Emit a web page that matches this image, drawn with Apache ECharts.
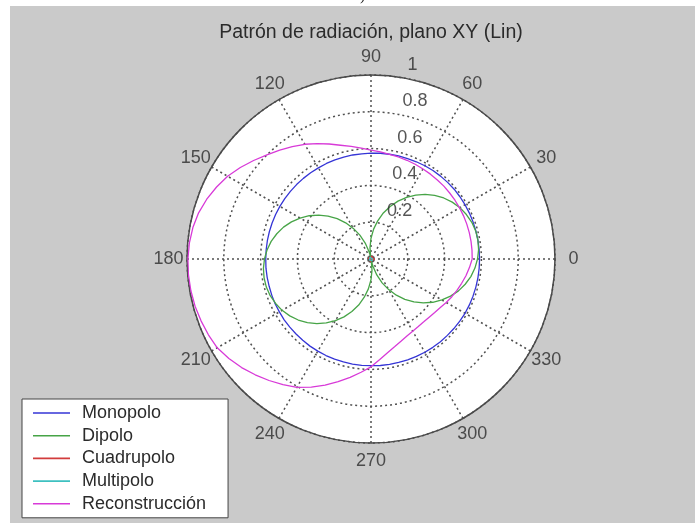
<!DOCTYPE html>
<html>
<head>
<meta charset="utf-8">
<script src="https://cdn.jsdelivr.net/npm/echarts@6/dist/echarts.min.js"></script>
<style>
  html, body { margin: 0; padding: 0; background: #ffffff; }
  #bg { position: absolute; left: 10px; top: 6px; width: 685px; height: 517px; background: #cacaca; }
  #disk { position: absolute; left: 187px; top: 75px; width: 368px; height: 368px; border-radius: 50%; background: #ffffff; }
  #chart { position: absolute; left: 0; top: 0; width: 695px; height: 523px; }
</style>
</head>
<body>
<div id="bg"></div>
<div id="disk"></div>
<div id="chart"></div>
<script>
// ---- data ----
const angles5 = [0,5,10,15,20,25,30,35,40,45,50,55,60,65,70,75,80,85,90,95,100,105,110,115,120,125,130,135,140,145,150,155,160,165,170,175,180,185,190,195,200,205,210,215,220,225,230,235,240,245,250,255,260,265,270,275,280,285,290,295,300,305,310,315,320,325,330,335,340,345,350,355,360];
const angles15 = [0,15,30,45,60,75,90,105,120,135,150,165,180,195,210,225,240,255,270,285,300,315,330,345,360];

const monopolo = [0.590,0.590,0.590,0.590,0.590,0.590,0.590,0.590,0.590,0.589,0.588,0.587,0.585,0.583,0.581,0.580,0.578,0.577,0.575,0.574,0.574,0.573,0.573,0.573,0.572,0.572,0.572,0.572,0.572,0.572,0.572,0.572,0.572,0.572,0.572,0.572,0.572,0.573,0.573,0.573,0.574,0.575,0.575,0.576,0.576,0.576,0.577,0.578,0.578,0.579,0.579,0.579,0.580,0.580,0.580,0.581,0.582,0.582,0.583,0.584,0.585,0.586,0.587,0.587,0.588,0.589,0.590,0.590,0.590,0.590,0.590,0.590,0.590];
const dipolo = [0.579,0.587,0.590,0.589,0.583,0.572,0.558,0.539,0.516,0.489,0.458,0.424,0.387,0.347,0.304,0.259,0.211,0.163,0.113,0.062,0.010,0.041,0.092,0.143,0.192,0.240,0.286,0.330,0.371,0.410,0.445,0.477,0.506,0.530,0.551,0.567,0.579,0.587,0.590,0.589,0.583,0.572,0.558,0.539,0.516,0.489,0.458,0.424,0.387,0.347,0.304,0.259,0.211,0.163,0.113,0.062,0.010,0.041,0.092,0.143,0.192,0.240,0.286,0.330,0.371,0.410,0.445,0.477,0.506,0.530,0.551,0.567,0.579];
const cuadrupolo = [0.02,0.017,0.01,0.002,0.01,0.017,0.02,0.017,0.01,0.002,0.01,0.017,0.02,0.017,0.01,0.002,0.01,0.017,0.02,0.017,0.01,0.002,0.01,0.017,0.02];
const multipolo = [0.01,0.01,0.01,0.01,0.01,0.01,0.01,0.01,0.01,0.01,0.01,0.01,0.01,0.01,0.01,0.01,0.01,0.01,0.01,0.01,0.01,0.01,0.01,0.01,0.01];
const reconstruccion = [0.550,0.551,0.552,0.553,0.554,0.555,0.556,0.557,0.558,0.560,0.561,0.563,0.565,0.568,0.571,0.574,0.578,0.584,0.592,0.605,0.621,0.640,0.665,0.692,0.720,0.746,0.772,0.800,0.833,0.867,0.900,0.926,0.950,0.970,0.983,0.991,0.995,0.996,0.994,0.990,0.983,0.975,0.965,0.943,0.918,0.890,0.862,0.834,0.805,0.768,0.730,0.690,0.653,0.618,0.586,0.548,0.517,0.494,0.476,0.462,0.453,0.448,0.446,0.447,0.452,0.460,0.472,0.485,0.497,0.510,0.524,0.537,0.550];

const angleTicks = [0,30,60,90,120,150,180,210,240,270,300,330];
const angleTickLabels = ['0','30','60','90','120','150','180','210','240','270','300','330'];
const radiusTicks = [0.2,0.4,0.6,0.8,1];
const radiusTickLabels = ['0.2','0.4','0.6','0.8','1'];
const seriesNames = ['Monopolo','Dipolo','Cuadrupolo','Multipolo','Reconstrucción'];
const titleText = 'Patrón de radiación, plano XY (Lin)';

// ---- build chart ----
const FONT = 'Liberation Sans, Arial, sans-serif';
const TXT = '#2b2b2b';
const colors = ['#3535d6','#47a447','#d23c3c','#3ec0c0','#d83ad8'];

function pairs(rs, angs) { return rs.map((r, i) => [r, angs[i]]); }

const chart = echarts.init(document.getElementById('chart'), null, { renderer: 'canvas' });

const lineSeries = [
  { name: seriesNames[0], data: pairs(monopolo, angles5) },
  { name: seriesNames[1], data: pairs(dipolo, angles5) },
  { name: seriesNames[2], data: pairs(cuadrupolo, angles15) },
  { name: seriesNames[3], data: pairs(multipolo, angles15) },
  { name: seriesNames[4], data: pairs(reconstruccion, angles5) }
].map((s, i) => Object.assign({
  type: 'line',
  coordinateSystem: 'polar',
  showSymbol: false,
  symbol: 'none',
  smooth: false,
  silent: true,
  animation: false,
  lineStyle: { color: colors[i], width: 1.3 },
  itemStyle: { color: colors[i] },
  z: 3 + i
}, s));

const option = {
  animation: false,
  backgroundColor: 'transparent',
  color: colors,
  graphic: [
    { type: 'text', x: 371, y: 33, style: { text: titleText, align: 'center', verticalAlign: 'middle', font: '19.5px ' + FONT, fill: TXT } },
    { type: 'text', x: 359, y: 4, style: { text: 'a)', align: 'center', verticalAlign: 'bottom', font: '16px Liberation Serif, serif', fill: '#222' } }
  ],
  polar: { center: [371, 259], radius: 184 },
  angleAxis: {
    type: 'value', min: 0, max: 360, interval: 30, startAngle: 0, clockwise: false,
    axisLine: { show: true, lineStyle: { color: '#4a4a4a', width: 1.5 } },
    axisTick: { show: false },
    axisLabel: { show: false },
    splitLine: { show: true, lineStyle: { color: '#505050', width: 1.5, type: [2, 3] } }
  },
  radiusAxis: {
    type: 'value', min: 0, max: 1, interval: 0.2,
    axisLine: { show: false }, axisTick: { show: false }, axisLabel: { show: false },
    splitLine: { show: true, lineStyle: { color: '#505050', width: 1.5, type: [2, 3] } }
  },
  legend: {
    data: seriesNames.map(n => ({ name: n, icon: 'rect' })),
    orient: 'vertical',
    left: 22, top: 399,
    padding: [5, 22, 5, 11],
    itemWidth: 37, itemHeight: 1.6, itemGap: 4.7,
    backgroundColor: '#ffffff',
    borderColor: '#444', borderWidth: 1,
    textStyle: { fontFamily: FONT, fontSize: 18, color: TXT, lineHeight: 18, padding: [0, 0, 0, 7] }
  },
  series: lineSeries.concat([
    {
      type: 'scatter', coordinateSystem: 'polar', clip: false, silent: true,
      symbol: 'circle', symbolSize: 0, itemStyle: { color: 'transparent' },
      data: angleTicks.map((a, i) => ({ name: angleTickLabels[i], value: [1.1, a] })),
      label: { show: true, position: 'inside', formatter: p => p.name, fontFamily: FONT, fontSize: 18, color: TXT },
      z: 10
    },
    {
      type: 'scatter', coordinateSystem: 'polar', clip: false, silent: true,
      symbol: 'circle', symbolSize: 0, itemStyle: { color: 'transparent' },
      data: radiusTicks.map((r, i) => ({ name: radiusTickLabels[i], value: [r, 82] })),
      label: { show: true, position: 'right', distance: 11, offset: [0, -12], formatter: p => p.name, fontFamily: FONT, fontSize: 18, color: TXT },
      z: 10
    }
  ])
};
chart.setOption(option);
</script>
</body>
</html>
